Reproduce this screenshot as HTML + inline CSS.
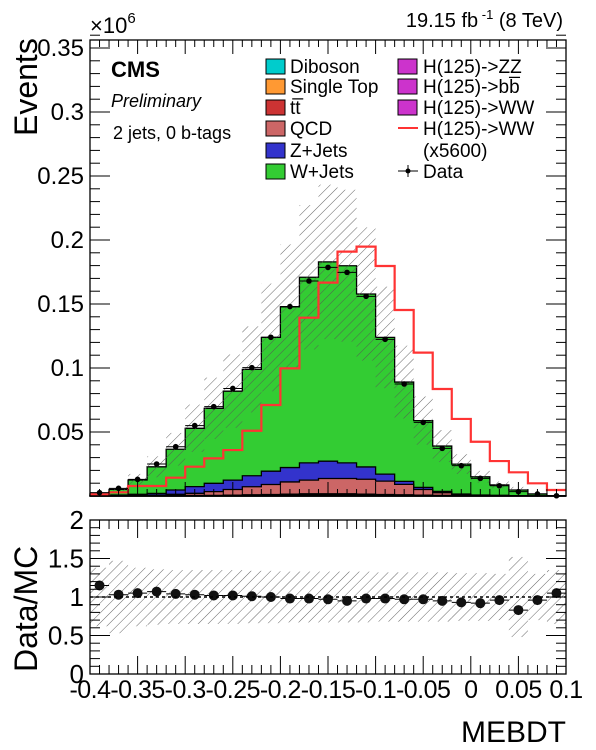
<!DOCTYPE html>
<html><head><meta charset="utf-8">
<style>
html,body{margin:0;padding:0;background:#fff;}
svg{display:block;font-family:"Liberation Sans",Arial,sans-serif;}
</style></head>
<body>
<svg id="chart" width="596" height="750" viewBox="0 0 596 750" xmlns="http://www.w3.org/2000/svg">
<defs>
<pattern id="hatch" patternUnits="userSpaceOnUse" width="7" height="7" patternTransform="rotate(45)">
<line x1="0" y1="0" x2="0" y2="7" stroke="#555" stroke-width="0.9"/>
</pattern>
</defs>
<g id="main"></g>
<g id="ratio"></g>
<text x="90" y="33" font-size="22">×10<tspan dy="-10" font-size="15">6</tspan></text>
<text x="563" y="27" font-size="20" text-anchor="end">19.15 fb<tspan dy="-8" font-size="13"> -1</tspan><tspan dy="8"> (8 TeV)</tspan></text>
<text transform="translate(37,136) rotate(-90)" font-size="32">Events</text>
<text transform="translate(37,672) rotate(-90)" font-size="32">Data/MC</text>
<text x="566" y="742" font-size="30" text-anchor="end">MEBDT</text>
<text x="111" y="77" font-size="22" font-weight="bold">CMS</text>
<text x="111" y="107" font-size="18" font-style="italic">Preliminary</text>
<text x="113" y="139" font-size="18">2 jets, 0 b-tags</text>
<g id="legend" font-size="19"></g>
</svg>
<script>
const binLo=-0.4, binW=0.02;
const diboson=[0,0,0,0.0001,0.0001,0.0002,0.0002,0.0003,0.0004,0.0005,0.0006,0.0007,0.0007,0.0007,0.0006,0.0005,0.0004,0.0003,0.0002,0.0001,0.0001,0,0,0,0];
const singletop=[0,0,0,0,0.0001,0.0001,0.0001,0.0001,0.0002,0.0002,0.0002,0.0003,0.0003,0.0003,0.0002,0.0002,0.0002,0.0001,0.0001,0,0,0,0,0,0];
const ttbar=[0,0,0,0.0001,0.0001,0.0002,0.0002,0.0003,0.0004,0.0005,0.0006,0.0007,0.0007,0.0007,0.0006,0.0005,0.0004,0.0003,0.0002,0.0001,0.0001,0,0,0,0];
const qcd=[0.0003,0.0003,0.0005,0.0005,0.001,0.0016,0.0029,0.0044,0.0062,0.0078,0.0096,0.0107,0.012,0.012,0.0117,0.0104,0.0081,0.0044,0.0021,0.0005,0.0003,0.0003,0,0,0];
const zjets=[0.0003,0.0005,0.0008,0.0013,0.0034,0.0052,0.0065,0.0073,0.0086,0.0104,0.0112,0.0135,0.0135,0.0122,0.0096,0.0055,0.0023,0.0016,0.001,0.0008,0.0003,0.0003,0.0003,0,0];
const wjets=[0.0011,0.0044,0.0112,0.0208,0.0318,0.0456,0.0586,0.0695,0.0831,0.1045,0.1256,0.145,0.1557,0.154,0.1351,0.1068,0.0776,0.0522,0.0354,0.0234,0.0142,0.0081,0.0044,0.0016,0.0003];
const signal=[0.0013,0.0029,0.0078,0.0078,0.0143,0.0229,0.0294,0.0359,0.051,0.0711,0.0997,0.1393,0.1667,0.1909,0.1948,0.1797,0.1453,0.112,0.0836,0.0602,0.0424,0.0273,0.0185,0.0099,0.0047];
const dataVals=[0.0026,0.006,0.013,0.025,0.0385,0.055,0.0698,0.084,0.1003,0.124,0.148,0.168,0.1786,0.1747,0.156,0.1224,0.0875,0.0575,0.0372,0.0237,0.0138,0.008,0.0034,0.0016,0.0002];
const ratioVals=[1.15,1.03,1.05,1.07,1.04,1.03,1.02,1.02,1.01,1.0,0.98,0.98,0.97,0.95,0.98,0.98,0.97,0.97,0.95,0.93,0.92,0.96,0.83,0.96,1.05];
const relErr=[0.38,0.47,0.38,0.36,0.35,0.35,0.35,0.35,0.34,0.34,0.33,0.33,0.33,0.33,0.33,0.32,0.32,0.32,0.32,0.31,0.31,0.3,0.52,0.3,0.35];
const yTicks=[0.05,0.1,0.15,0.2,0.25,0.3,0.35];
const yTickLabels=["0.05","0.1","0.15","0.2","0.25","0.3","0.35"];
const xTicks=[-0.4,-0.35,-0.3,-0.25,-0.2,-0.15,-0.1,-0.05,0,0.05,0.1];
const xTickLabels=["-0.4","-0.35","-0.3","-0.25","-0.2","-0.15","-0.1","-0.05","0","0.05","0.1"];
const rTicks=[0,0.5,1,1.5,2];
const rTickLabels=["0","0.5","1","1.5","2"];

const NS="http://www.w3.org/2000/svg";
const L=90,R=566,T=40,B=496,RT=520,RB=674;
const X=v=>L+(v+0.4)/0.5*(R-L);
const Y=v=>B-v/0.05*64;
const YR=v=>RB-v/2*(RB-RT);
function el(tag,attrs,parent){const e=document.createElementNS(NS,tag);for(const k in attrs)e.setAttribute(k,attrs[k]);parent.appendChild(e);return e;}
const main=document.getElementById('main'), ratio=document.getElementById('ratio');
const n=wjets.length;
const comps=[diboson,singletop,ttbar,qcd,zjets,wjets];
const colors=["#00cccc","#ff9933","#cc3333","#cc6666","#3333cc","#33cc33"];
const names=["stack-diboson","stack-single-top","stack-ttbar","stack-qcd","stack-zjets","stack-wjets"];
const cum=[];let base=new Array(n).fill(0);
comps.forEach(c=>{const top=base.map((b,i)=>b+c[i]);cum.push({lo:base,hi:top});base=top;});
const total=base;
for(let k=comps.length-1;k>=0;k--){
  let d="M"+X(binLo)+","+Y(0);
  for(let i=0;i<n;i++){const x0=X(binLo+i*binW),x1=X(binLo+(i+1)*binW);d+=" L"+x0+","+Y(cum[k].hi[i])+" L"+x1+","+Y(cum[k].hi[i]);}
  d+=" L"+X(0.1)+","+Y(0)+" Z";
  const p=el('path',{d:d,fill:colors[k],stroke:"#000","stroke-width":1.3},main);
  
  
}
for(let i=0;i<n;i++){
  const x0=X(binLo+i*binW),x1=X(binLo+(i+1)*binW);
  const hi=Math.min(total[i]*(1+relErr[i]),0.362),lo=total[i]*(1-relErr[i]);
  const r=el('rect',{x:x0,y:Y(hi),width:x1-x0,height:Y(lo)-Y(hi),fill:"url(#hatch)"},main);
  
  
  const rr=el('rect',{x:x0,y:YR(Math.min(1+relErr[i],2)),width:x1-x0,height:YR(1-relErr[i])-YR(Math.min(1+relErr[i],2)),fill:"url(#hatch)"},ratio);
  
  
}
let sd="M"+X(binLo)+","+Y(signal[0]);
for(let i=0;i<n;i++){const x0=X(binLo+i*binW),x1=X(binLo+(i+1)*binW);sd+=" L"+x0+","+Y(signal[i])+" L"+x1+","+Y(signal[i]);}
const sp=el('path',{d:sd,fill:"none",stroke:"#ff3333","stroke-width":2.2},main);


for(let i=0;i<n;i++){
  const x0=X(binLo+i*binW),x1=X(binLo+(i+1)*binW),xc=(x0+x1)/2;
  el('line',{x1:x0,x2:x1,y1:Y(dataVals[i]),y2:Y(dataVals[i]),stroke:"#000","stroke-width":1},main);
  const c=el('circle',{cx:xc,cy:Y(dataVals[i]),r:2.8,fill:"#000"},main);
  
  
  el('line',{x1:x0,x2:x1,y1:YR(ratioVals[i]),y2:YR(ratioVals[i]),stroke:"#000","stroke-width":1},ratio);
  const rc=el('circle',{cx:xc,cy:YR(ratioVals[i]),r:5,fill:"#111"},ratio);
  
  
}
el('line',{x1:L,x2:R,y1:YR(1),y2:YR(1),stroke:"#000","stroke-width":1.5,"stroke-dasharray":"3,3"},ratio);
el('rect',{x:L,y:T,width:R-L,height:B-T,fill:"none",stroke:"#000","stroke-width":1.3},main);
el('rect',{x:L,y:RT,width:R-L,height:RB-RT,fill:"none",stroke:"#000","stroke-width":1.3},ratio);
for(let v=0.01;v<0.362;v+=0.01){const big=Math.abs(v/0.05-Math.round(v/0.05))<0.01;const w=big?20:10;
  el('line',{x1:L,x2:L+w,y1:Y(v),y2:Y(v),stroke:"#000","stroke-width":1},main);
  el('line',{x1:R,x2:R-w,y1:Y(v),y2:Y(v),stroke:"#000","stroke-width":1},main);}
yTicks.forEach((v,i)=>{const t=el('text',{x:L-6,y:Y(v)+8,"font-size":24,"text-anchor":"end"},main);t.textContent=yTickLabels[i];
  });
for(let k=0;k<=50;k++){const v=-0.4+k*0.01;const big=k%5===0;
  [[T,B,14,7],[RT,RB,18,9]].forEach(([t,b,bw,sw])=>{const w=big?bw:sw;const g=t===T?main:ratio;
   el('line',{x1:X(v),x2:X(v),y1:b,y2:b-w,stroke:"#000","stroke-width":1},g);
   el('line',{x1:X(v),x2:X(v),y1:t,y2:t+w,stroke:"#000","stroke-width":1},g);});}
xTicks.forEach((v,i)=>{const t=el('text',{x:X(v),y:698,"font-size":25,"text-anchor":"middle","letter-spacing":"-0.5"},ratio);t.textContent=xTickLabels[i];
  });
for(let k=1;k<20;k++){const v=k*0.1;const big=k%5===0;const w=big?20:10;
  el('line',{x1:L,x2:L+w,y1:YR(v),y2:YR(v),stroke:"#000","stroke-width":1},ratio);
  el('line',{x1:R,x2:R-w,y1:YR(v),y2:YR(v),stroke:"#000","stroke-width":1},ratio);}
rTicks.forEach((v,i)=>{const t=el('text',{x:L-6,y:YR(v)+9,"font-size":26,"text-anchor":"end"},ratio);t.textContent=rTickLabels[i];
  });
const leg=document.getElementById('legend');
const col1=[["Diboson","#00cccc"],["Single Top","#ff9933"],["tt\u0305","#cc3333"],["QCD","#cc6666"],["Z+Jets","#3333cc"],["W+Jets","#33cc33"]];
const rows=[66,86,107,128,150,171];
col1.forEach((e,i)=>{const r=el('rect',{x:266,y:rows[i]-7,width:19,height:15,fill:e[1],stroke:"#000","stroke-width":1},leg);
  
  const t=el('text',{x:290,y:rows[i]+7},leg);t.textContent=e[0];});
const col2=["H(125)->ZZ","H(125)->bb\u0305","H(125)->WW"];
col2.forEach((s,i)=>{const r=el('rect',{x:398,y:rows[i]-7,width:19,height:15,fill:"#cc33cc",stroke:"#000","stroke-width":1},leg);
  
  const t=el('text',{x:423,y:rows[i]+7},leg);t.textContent=s;});
el('line',{x1:398,x2:418,y1:128,y2:128,stroke:"#ff3333","stroke-width":2},leg);
let t=el('text',{x:423,y:135},leg);t.textContent="H(125)->WW";

t=el('text',{x:423,y:157},leg);t.textContent="(x5600)";

el('line',{x1:398,x2:418,y1:171,y2:171,stroke:"#000","stroke-width":1},leg);
el('line',{x1:408,x2:408,y1:165,y2:177,stroke:"#000","stroke-width":1},leg);
el('circle',{cx:408,cy:171,r:2.5,fill:"#000"},leg);
t=el('text',{x:423,y:178},leg);t.textContent="Data";

</script>
</body></html>
